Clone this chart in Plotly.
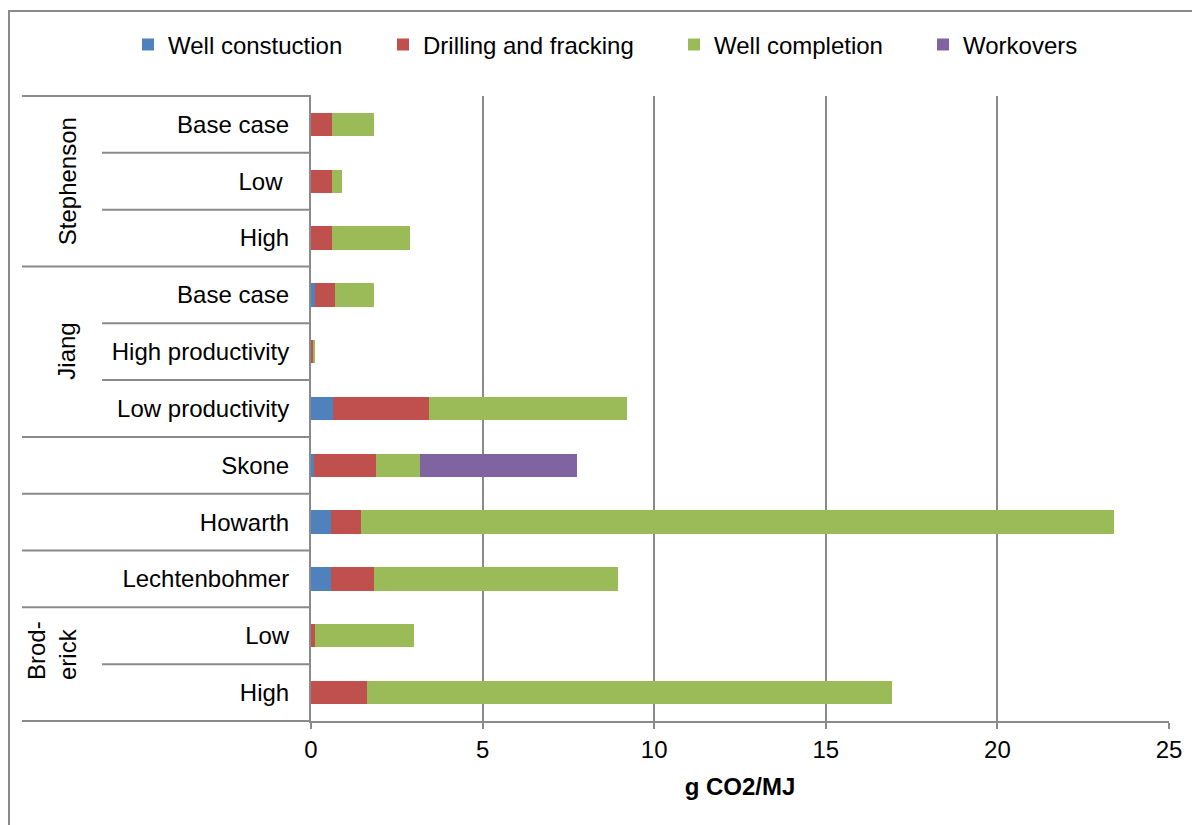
import plotly.graph_objects as go

# ---- data ----
row_ids = ["St_base", "St_low", "St_high", "Ji_base", "Ji_highp", "Ji_lowp",
           "Skone", "Howarth", "Lechtenbohmer", "Br_low", "Br_high"]
row_labels = ["Base case", "Low\u00a0", "High", "Base case", "High productivity",
              "Low productivity", "Skone", "Howarth", "Lechtenbohmer", "Low", "High"]
groups = [("Stephenson", 0, 3), ("Jiang", 3, 6), ("Brod-<br>erick", 9, 11)]

well_construction = [0.0, 0.0, 0.0, 0.13, 0.01, 0.65, 0.10, 0.58, 0.58, 0.0, 0.0]
drilling_fracking = [0.61, 0.61, 0.61, 0.56, 0.04, 2.79, 1.78, 0.87, 1.27, 0.13, 1.63]
well_completion = [1.22, 0.29, 2.27, 1.15, 0.06, 5.76, 1.30, 21.95, 7.09, 2.87, 15.29]
workovers = [0.0, 0.0, 0.0, 0.0, 0.0, 0.0, 4.58, 0.0, 0.0, 0.0, 0.0]

series = [
    ("Well constuction", well_construction, "#4F81BD"),
    ("Drilling and fracking", drilling_fracking, "#C0504D"),
    ("Well completion", well_completion, "#9BBB59"),
    ("Workovers", workovers, "#8064A2"),
]

x_ticks = [0, 5, 10, 15, 20, 25]

# ---- layout geometry (page pixels; the page body adds an 8px offset) ----
OFF = 8
W, H = 1200 - OFF, 825 - OFF
L, R, T, B = 311 - OFF, 1169 - OFF, 96 - OFF, 721 - OFF
FONT = "Liberation Sans, Arial, sans-serif"
GREY = "#8a8a8a"


def pxx(px):  # page x -> paper x
    return (px - OFF - L) / (R - L)


def pxy(py):  # page y -> paper y
    return (B - (py - OFF)) / (B - T)


fig = go.Figure()
legend_text_x = [168, 423, 714, 963]
legend_names = ["legend", "legend2", "legend3", "legend4"]
for (name, vals, col), lg in zip(series, legend_names):
    fig.add_trace(go.Bar(
        y=row_ids, x=vals, name=name, orientation="h", legend=lg,
        marker=dict(color=col, line=dict(width=0)),
    ))

n = len(row_ids)
shapes = []
# outer chart border
shapes.append(dict(type="rect", xref="paper", yref="paper",
                   x0=pxx(9), x1=pxx(1215), y0=pxy(840), y1=pxy(11),
                   line=dict(color=GREY, width=2), fillcolor="rgba(0,0,0,0)", layer="below"))
long_k = [0, 3, 6, 7, 8, 9, 11]
short_k = [1, 2, 4, 5, 10]
for k in long_k:
    yy = 1 - k / n
    shapes.append(dict(type="line", xref="paper", yref="paper",
                       x0=pxx(22), x1=0, y0=yy, y1=yy,
                       line=dict(color=GREY, width=2)))
for k in short_k:
    yy = 1 - k / n
    shapes.append(dict(type="line", xref="paper", yref="paper",
                       x0=pxx(102), x1=0, y0=yy, y1=yy,
                       line=dict(color=GREY, width=2)))

annotations = []
for gname, a, b in groups:
    if "<br>" in gname:
        xc, yc = pxx(52), pxy(651)
    else:
        xc, yc = pxx(67), 1 - ((a + b) / 2) / n
    annotations.append(dict(text=gname, xref="paper", yref="paper",
                            x=xc, y=yc, showarrow=False, textangle=-90,
                            align="left", font=dict(family=FONT, size=24, color="black"),
                            xanchor="center", yanchor="middle"))

legend_layout = {}
for lg, tx in zip(legend_names, legend_text_x):
    legend_layout[lg] = dict(orientation="h", xref="container", yref="container",
                             x=(tx - 40 - OFF) / W, y=1 - (45 - OFF) / H,
                             xanchor="left", yanchor="middle",
                             bgcolor="rgba(0,0,0,0)",
                             font=dict(family=FONT, size=24, color="black"))

fig.update_layout(
    width=W, height=H,
    margin=dict(l=L, r=W - R, t=T, b=H - B, pad=0),
    paper_bgcolor="white", plot_bgcolor="white",
    barmode="stack", bargap=0.59,
    font=dict(family=FONT, size=24, color="black"),
    showlegend=True,
    shapes=shapes,
    annotations=annotations,
    xaxis=dict(range=[0, 25], tickvals=x_ticks, ticktext=[str(t) for t in x_ticks],
               showgrid=True, gridcolor=GREY, gridwidth=2,
               zeroline=False, showline=True, linecolor=GREY, linewidth=2,
               ticks="outside", ticklen=6, tickcolor=GREY, tickwidth=2,
               tickfont=dict(family=FONT, size=24, color="black"),
               title=dict(text="<b>g CO2/MJ</b>", standoff=16,
                          font=dict(family=FONT, size=24, color="black"))),
    yaxis=dict(type="category", categoryorder="array", categoryarray=row_ids,
               tickvals=row_ids, ticktext=row_labels, autorange="reversed",
               showgrid=False, zeroline=False, showline=True, linecolor=GREY, linewidth=2,
               ticks="", ticklabelstandoff=15,
               tickfont=dict(family=FONT, size=24, color="black")),
    **legend_layout,
)

fig.write_html("out.html")
